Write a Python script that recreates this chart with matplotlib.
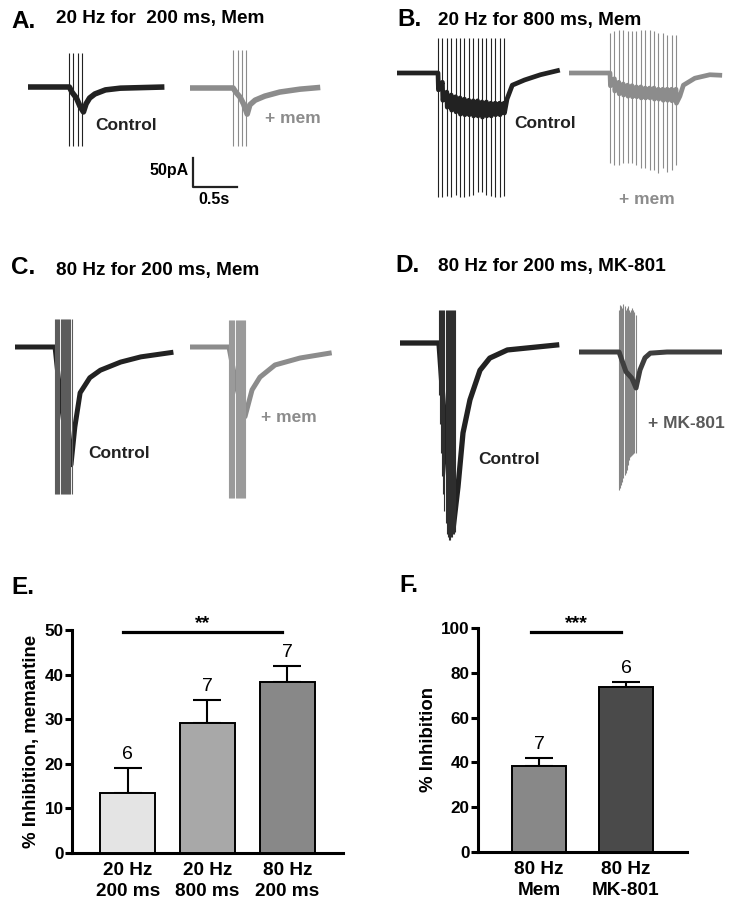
import numpy as np
import matplotlib
matplotlib.use("Agg")
import matplotlib.pyplot as plt

plt.rcParams['font.family'] = ['Liberation Sans', 'DejaVu Sans']

# ---------------- data: traces (time in s, current in pA) ----------------
# Panel A: 20 Hz for 200 ms
A_ctrl_t = [0, 0.47, 0.50, 0.55, 0.59, 0.63, 0.66, 0.70, 0.76, 0.88, 1.05, 1.55]
A_ctrl_i = [0, 0, -9, -19, -33, -43, -29, -19, -12, -5, -2, 0]
A_mem_t = [0, 0.49, 0.52, 0.57, 0.61, 0.65, 0.68, 0.74, 0.85, 1.02, 1.25, 1.48]
A_mem_i = [0, 0, -7, -16, -28, -45, -29, -21, -14, -7, -2, 1]
A_ctrl_art = (0.466, 20, 4, [59] * 4, [-102] * 4)
A_mem_art = (0.49, 20, 4, [66] * 4, [-100] * 4)

# Panel B: 20 Hz for 800 ms (level before each pulse / dip after it)
B_ctrl_pre = [0, -16, -33, -38, -41, -43, -45, -47, -48, -48, -50, -50, -52, -52, -52, -52]
B_ctrl_dip = [-29, -47, -59, -64, -67, -71, -72, -72, -74, -74, -76, -74, -74, -72, -72, -69]
B_ctrl_tail_t = [1.25, 1.31, 1.45, 1.63, 1.85]
B_ctrl_tail_i = [-45, -21, -12, -3, 5]
B_ctrl_art = (0.466, 20, 16, [60] * 16,
              [-214, -214, -212, -214, -210, -214, -214, -212, -210, -205, -205, -210, -212, -214, -214, -212])
B_mem_pre = [0, -10, -16, -19, -21, -22, -24, -24, -26, -26, -26, -28, -28, -28, -28, -28]
B_mem_dip = [-22, -31, -36, -38, -40, -41, -41, -43, -43, -43, -45, -45, -47, -47, -48, -52]
B_mem_tail_t = [1.26, 1.30, 1.43, 1.60, 1.74]
B_mem_tail_i = [-40, -21, -9, -3, -4]
B_mem_art = (0.466, 20, 16,
             [69, 72, 74, 74, 72, 72, 72, 74, 74, 74, 72, 69, 69, 66, 66, 66],
             [-155, -158, -158, -155, -155, -155, -158, -164, -164, -167, -167, -172, -164, -170, -167, -158])

# Panel C: 80 Hz for 200 ms, memantine
C_ctrl_t = [0, 0.455, 0.51, 0.57, 0.636, 0.68, 0.74, 0.85, 0.97, 1.20, 1.43, 1.80]
C_ctrl_i = [0, 0, -79, -148, -203, -138, -79, -53, -40, -26, -17, -9]
C_mem_t = [0, 0.443, 0.534, 0.625, 0.705, 0.795, 0.966, 1.25, 1.61]
C_mem_i = [0, 0, -72, -120, -74, -52, -31, -19, -10]
C_ctrl_art = (0.455, 80, 16, [48] * 16, [-253] * 16)
C_mem_art = (0.443, 80, 16, [47] * 16, [-260] * 16)

# Panel D: 80 Hz for 200 ms, MK-801
D_ctrl_t = [0, 0.443, 0.52, 0.602, 0.659, 0.716, 0.795, 0.909, 1.02, 1.22, 1.81]
D_ctrl_i = [0, 0, -167, -322, -248, -155, -98, -47, -26, -12, -3]
D_mk_t = [0, 0.455, 0.534, 0.60, 0.648, 0.693, 0.75, 0.81, 1.0, 1.625]
D_mk_i = [0, 0, -34, -45, -62, -31, -10, -2, 0, 0]
D_ctrl_art = (0.443, 80, 16, [57] * 16,
              [-90, -140, -190, -230, -260, -290, -310, -330, -335, -340, -340, -335, -335, -330, -330, -325])
D_mk_art = (0.455, 80, 16,
            [72, 81, 79, 76, 83, 79, 72, 76, 79, 72, 69, 72, 76, 72, 69, 64],
            [-238, -234, -229, -224, -217, -212, -209, -203, -195, -186, -181, -179, -177, -176, -174, -174])

# ---------------- data: bar charts ----------------
E_labels = ['20 Hz\n200 ms', '20 Hz\n800 ms', '80 Hz\n200 ms']
E_means = [13.5, 29.2, 38.3]
E_sem = [5.6, 5.1, 3.7]
E_n = [6, 7, 7]
F_labels = ['80 Hz\nMem', '80 Hz\nMK-801']
F_means = [38.4, 73.5]
F_sem = [3.6, 2.3]
F_n = [7, 6]

# ---------------- layout helpers ----------------
W, H = 737, 907
PX_S, PX_PA = 88.0, 0.58

fig = plt.figure(figsize=(W / 100, H / 100), dpi=100)


def ftext(x, y, s, **kw):
    fig.text(x / W, 1 - y / H, s, **kw)


def trace_axes(left, base, span, top, bottom):
    w = span * PX_S
    h = (top - bottom) * PX_PA
    ytop = base - top * PX_PA
    ax = fig.add_axes([left / W, 1 - (ytop + h) / H, w / W, h / H])
    ax.set_xlim(0, span)
    ax.set_ylim(bottom, top)
    ax.axis('off')
    return ax


def draw_trace(ax, t, i, art, color, art_color, lw=3.0, trace_on_top=False):
    onset, freq, n, tops, bots = art
    times = onset + np.arange(n) / freq
    ax.plot(t, i, color=color, lw=lw, solid_joinstyle='round', solid_capstyle='butt',
            zorder=4 if trace_on_top else 2, clip_on=False)
    ax.vlines(times, bots, tops, color=art_color, lw=0.8, zorder=3)


def saw(onset, freq, pre, dip, tail_t, tail_i):
    t, i = [0.0], [0.0]
    for k, (p, d) in enumerate(zip(pre, dip)):
        tk = onset + k / freq
        t += [tk, tk + 0.005]
        i += [p, d]
    return t + tail_t, i + tail_i


BLACK = '#222222'
GRAY = '#8c8c8c'

# ---------------- Panel A ----------------
ax = trace_axes(28, 87, 1.55, 70, -110)
draw_trace(ax, A_ctrl_t, A_ctrl_i, A_ctrl_art, BLACK, BLACK, lw=4.0)
ax = trace_axes(190, 88, 1.48, 70, -110)
draw_trace(ax, A_mem_t, A_mem_i, A_mem_art, GRAY, GRAY, lw=4.0)

# scale bar
sb = fig.add_axes([193 / W, 1 - 187 / H, 44 / W, 29 / H])
sb.set_xlim(0, 0.5)
sb.set_ylim(0, 50)
sb.axis('off')
sb.plot([0, 0, 0.5], [50, 0, 0], color=BLACK, lw=1.6, clip_on=False)
ftext(189, 171, '50pA', ha='right', va='center', fontsize=11.5, fontweight='bold')
ftext(214, 200, '0.5s', ha='center', va='center', fontsize=11.5, fontweight='bold')

# ---------------- Panel B ----------------
bt, bi = saw(B_ctrl_art[0], B_ctrl_art[1], B_ctrl_pre, B_ctrl_dip, B_ctrl_tail_t, B_ctrl_tail_i)
ax = trace_axes(397, 73, 1.85, 70, -220)
draw_trace(ax, bt, bi, B_ctrl_art, BLACK, BLACK, lw=3.4)
bt, bi = saw(B_mem_art[0], B_mem_art[1], B_mem_pre, B_mem_dip, B_mem_tail_t, B_mem_tail_i)
ax = trace_axes(569, 73, 1.74, 80, -180)
draw_trace(ax, bt, bi, B_mem_art, GRAY, GRAY, lw=3.4)

# ---------------- Panel C ----------------
ax = trace_axes(15, 347, 1.80, 55, -260)
draw_trace(ax, C_ctrl_t, C_ctrl_i, C_ctrl_art, BLACK, '#5c5c5c', lw=3.6)
ax = trace_axes(190, 347, 1.61, 55, -265)
draw_trace(ax, C_mem_t, C_mem_i, C_mem_art, GRAY, '#9a9a9a', lw=3.6)

# ---------------- Panel D ----------------
ax = trace_axes(400, 343, 1.81, 65, -345)
draw_trace(ax, D_ctrl_t, D_ctrl_i, D_ctrl_art, BLACK, '#2e2e2e', lw=3.8)
ax = trace_axes(579, 352, 1.625, 90, -245)
draw_trace(ax, D_mk_t, D_mk_i, D_mk_art, '#3e3e3e', '#858585', lw=3.6, trace_on_top=True)

# ---------------- titles and trace labels ----------------
for x, y, s in [(11, 21, 'A.'), (397, 20, 'B.'), (11, 268, 'C.'), (395, 265, 'D.'),
                (11, 588, 'E.'), (399, 586, 'F.')]:
    ftext(x, y, s, ha='left', va='center', fontsize=17.5, fontweight='bold')
for x, y, s in [(56, 19, '20 Hz for  200 ms, Mem'), (438, 21, '20 Hz for 800 ms, Mem'),
                (56, 270, '80 Hz for 200 ms, Mem'), (438, 266, '80 Hz for 200 ms, MK-801')]:
    ftext(x, y, s, ha='left', va='center', fontsize=13.7, fontweight='bold')

lab = dict(ha='left', va='center', fontsize=12.5, fontweight='bold')
ftext(95, 125, 'Control', color=BLACK, **lab)
ftext(265, 118, '+ mem', color=GRAY, **lab)
ftext(514, 123, 'Control', color=BLACK, **lab)
ftext(619, 199, '+ mem', color=GRAY, **lab)
ftext(88, 453, 'Control', color=BLACK, **lab)
ftext(261, 418, '+ mem', color=GRAY, **lab)
ftext(478, 460, 'Control', color=BLACK, **lab)
ftext(648, 423, '+ MK-801', color='#5a5a5a', **lab)


# ---------------- bar charts ----------------
def bar_panel(rect, labels, means, sem, n, colors, ylim, yticks, width, ylabel,
              sig_x, sig_y, stars):
    ax = fig.add_axes(rect)
    x = np.arange(len(means))
    ax.bar(x, means, width=width, color=colors, edgecolor='black', linewidth=1.4, zorder=3)
    ax.errorbar(x, means, yerr=[np.zeros(len(sem)), sem], fmt='none', ecolor='black',
                elinewidth=1.5, capsize=10, capthick=1.5, zorder=2)
    for xi, m, s, k in zip(x, means, sem, n):
        ax.text(xi, m + s + ylim[1] * 0.022, str(k), ha='center', va='bottom', fontsize=14)
    ax.plot(sig_x, [sig_y, sig_y], color='black', lw=2.3, clip_on=False)
    ax.text(np.mean(sig_x), sig_y + ylim[1] * 0.002, stars, ha='center', va='bottom',
            fontsize=14, fontweight='bold')
    ax.set_xlim(-0.70, len(means) - 0.30)
    ax.set_ylim(*ylim)
    ax.set_yticks(yticks)
    ax.set_xticks(x)
    ax.set_xticklabels(labels, fontsize=13.7, fontweight='bold', linespacing=1.3)
    for t in ax.get_yticklabels():
        t.set_fontweight('bold')
        t.set_fontsize(12.3)
    for side in ['top', 'right']:
        ax.spines[side].set_visible(False)
    for side in ['left', 'bottom']:
        ax.spines[side].set_linewidth(2.2)
    ax.tick_params(axis='y', length=5, width=2.2, pad=1)
    ax.tick_params(axis='x', length=0, pad=6.5)
    ax.set_ylabel(ylabel, fontsize=13.4, fontweight='bold', labelpad=3)
    return ax


bar_panel([72 / W, 1 - 853 / H, 271 / W, 223 / H], E_labels, E_means, E_sem, E_n,
          ['#e4e4e4', '#a8a8a8', '#888888'], (0, 50), [0, 10, 20, 30, 40, 50], 0.69,
          '% Inhibition, memantine', [-0.06, 1.93], 49.5, '**')
bar_panel([478 / W, 1 - 852 / H, 209 / W, 224 / H], F_labels, F_means, F_sem, F_n,
          ['#888888', '#4a4a4a'], (0, 100), [0, 20, 40, 60, 80, 100], 0.62,
          '% Inhibition', [-0.09, 0.94], 98.2, '***')

fig.savefig('out.png', dpi=100)
